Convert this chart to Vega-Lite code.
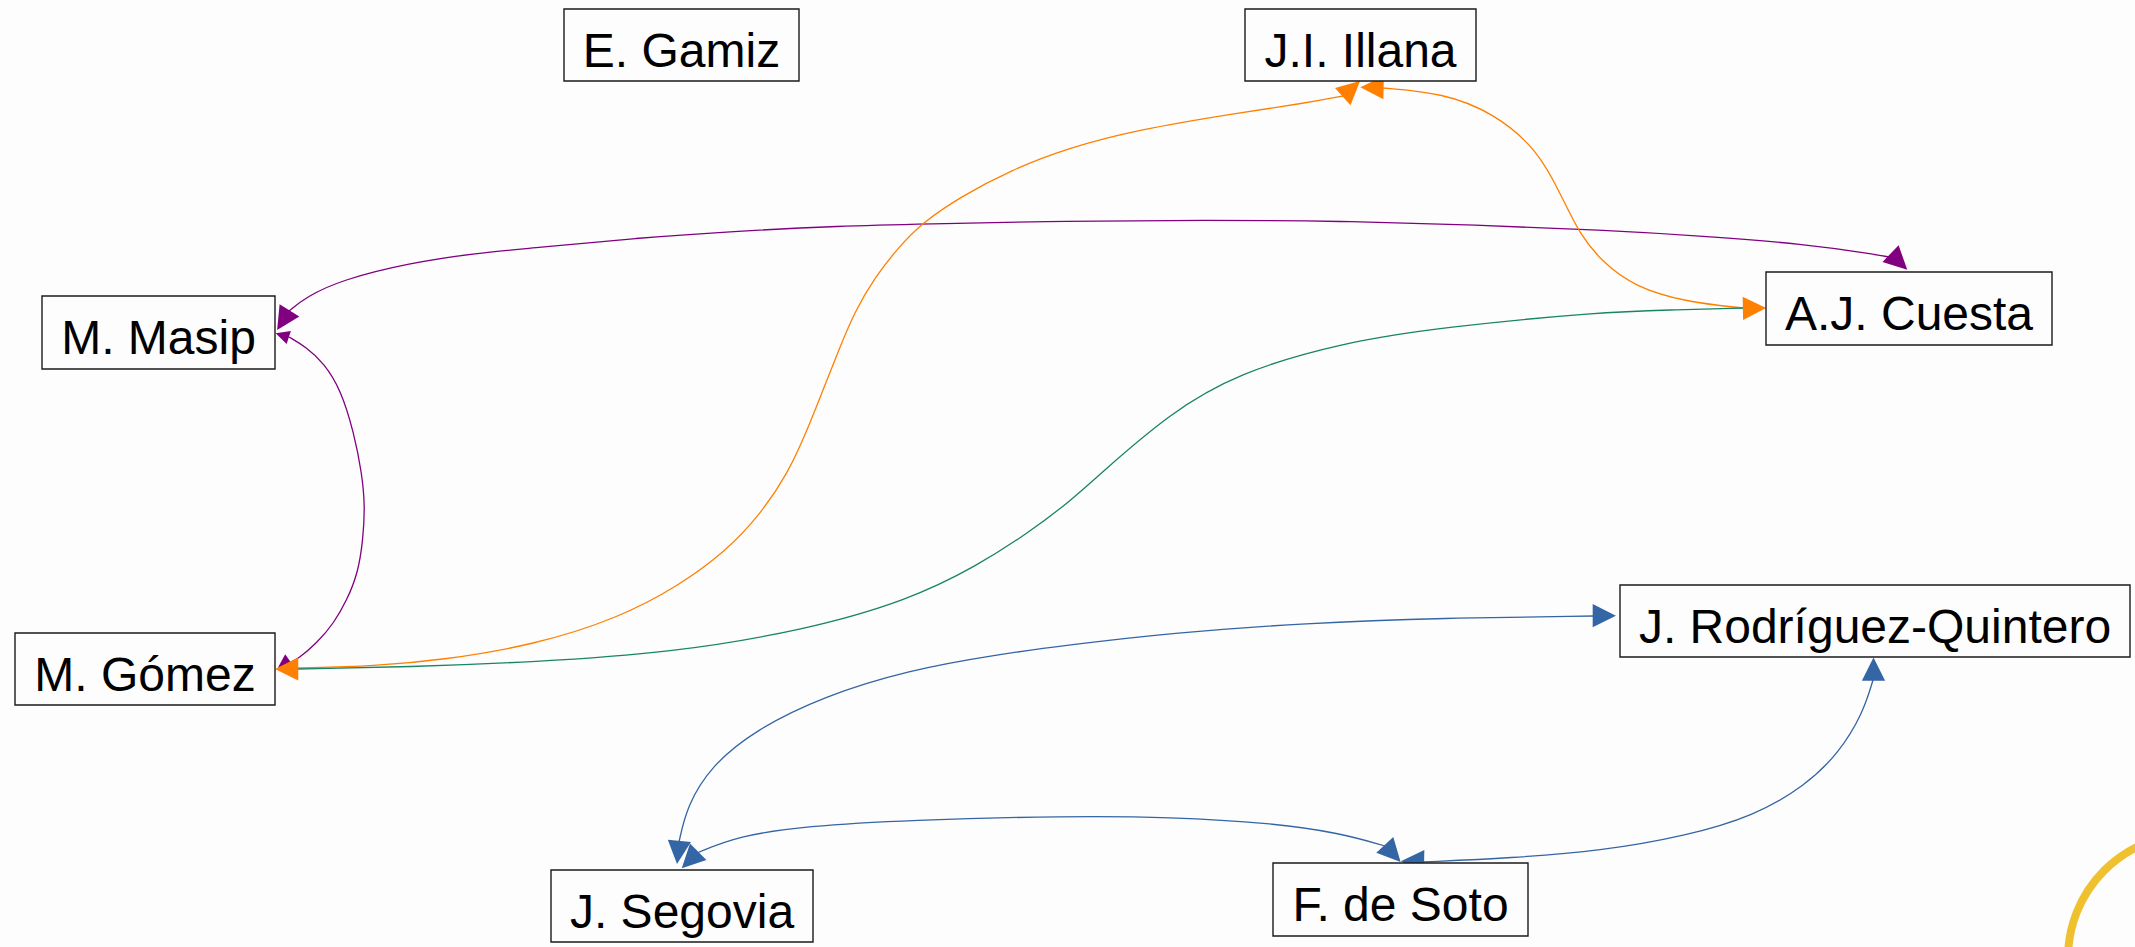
{
  "$schema": "https://vega.github.io/schema/vega-lite/v6.json",
  "width": 2135,
  "height": 947,
  "autosize": {"type": "none"},
  "padding": 0,
  "background": "#fdfdfd",
  "config": {"view": {"stroke": null}},
  "datasets": {
    "edges": [
      {"edge": "Masip–Cuesta", "i": 0, "x": 289, "y": 311},
      {"edge": "Masip–Cuesta", "i": 1, "x": 306, "y": 297},
      {"edge": "Masip–Cuesta", "i": 2, "x": 341, "y": 280},
      {"edge": "Masip–Cuesta", "i": 3, "x": 409, "y": 263},
      {"edge": "Masip–Cuesta", "i": 4, "x": 477, "y": 253},
      {"edge": "Masip–Cuesta", "i": 5, "x": 534, "y": 248},
      {"edge": "Masip–Cuesta", "i": 6, "x": 636, "y": 238},
      {"edge": "Masip–Cuesta", "i": 7, "x": 738, "y": 231},
      {"edge": "Masip–Cuesta", "i": 8, "x": 840, "y": 226},
      {"edge": "Masip–Cuesta", "i": 9, "x": 922, "y": 224},
      {"edge": "Masip–Cuesta", "i": 10, "x": 1068, "y": 221},
      {"edge": "Masip–Cuesta", "i": 11, "x": 1204, "y": 220},
      {"edge": "Masip–Cuesta", "i": 12, "x": 1340, "y": 221},
      {"edge": "Masip–Cuesta", "i": 13, "x": 1477, "y": 225},
      {"edge": "Masip–Cuesta", "i": 14, "x": 1602, "y": 230},
      {"edge": "Masip–Cuesta", "i": 15, "x": 1703, "y": 236},
      {"edge": "Masip–Cuesta", "i": 16, "x": 1805, "y": 244},
      {"edge": "Masip–Cuesta", "i": 17, "x": 1873, "y": 254},
      {"edge": "Masip–Cuesta", "i": 18, "x": 1889, "y": 257},

      {"edge": "Masip–Gómez", "i": 0, "x": 289, "y": 337},
      {"edge": "Masip–Gómez", "i": 1, "x": 306, "y": 347},
      {"edge": "Masip–Gómez", "i": 2, "x": 324, "y": 363},
      {"edge": "Masip–Gómez", "i": 3, "x": 341, "y": 390},
      {"edge": "Masip–Gómez", "i": 4, "x": 354, "y": 433},
      {"edge": "Masip–Gómez", "i": 5, "x": 362, "y": 474},
      {"edge": "Masip–Gómez", "i": 6, "x": 365, "y": 506},
      {"edge": "Masip–Gómez", "i": 7, "x": 363, "y": 540},
      {"edge": "Masip–Gómez", "i": 8, "x": 358, "y": 573},
      {"edge": "Masip–Gómez", "i": 9, "x": 347, "y": 600},
      {"edge": "Masip–Gómez", "i": 10, "x": 334, "y": 623},
      {"edge": "Masip–Gómez", "i": 11, "x": 317, "y": 643},
      {"edge": "Masip–Gómez", "i": 12, "x": 298, "y": 659},
      {"edge": "Masip–Gómez", "i": 13, "x": 291, "y": 662},

      {"edge": "Gómez–Illana", "i": 0, "x": 298, "y": 668},
      {"edge": "Gómez–Illana", "i": 1, "x": 375, "y": 666},
      {"edge": "Gómez–Illana", "i": 2, "x": 443, "y": 660},
      {"edge": "Gómez–Illana", "i": 3, "x": 534, "y": 645},
      {"edge": "Gómez–Illana", "i": 4, "x": 619, "y": 618},
      {"edge": "Gómez–Illana", "i": 5, "x": 680, "y": 585},
      {"edge": "Gómez–Illana", "i": 6, "x": 725, "y": 552},
      {"edge": "Gómez–Illana", "i": 7, "x": 760, "y": 515},
      {"edge": "Gómez–Illana", "i": 8, "x": 788, "y": 473},
      {"edge": "Gómez–Illana", "i": 9, "x": 806, "y": 433},
      {"edge": "Gómez–Illana", "i": 10, "x": 823, "y": 390},
      {"edge": "Gómez–Illana", "i": 11, "x": 840, "y": 347},
      {"edge": "Gómez–Illana", "i": 12, "x": 854, "y": 313},
      {"edge": "Gómez–Illana", "i": 13, "x": 875, "y": 277},
      {"edge": "Gómez–Illana", "i": 14, "x": 898, "y": 248},
      {"edge": "Gómez–Illana", "i": 15, "x": 922, "y": 223},
      {"edge": "Gómez–Illana", "i": 16, "x": 960, "y": 197},
      {"edge": "Gómez–Illana", "i": 17, "x": 1011, "y": 170},
      {"edge": "Gómez–Illana", "i": 18, "x": 1068, "y": 148},
      {"edge": "Gómez–Illana", "i": 19, "x": 1136, "y": 130},
      {"edge": "Gómez–Illana", "i": 20, "x": 1238, "y": 113},
      {"edge": "Gómez–Illana", "i": 21, "x": 1306, "y": 103},
      {"edge": "Gómez–Illana", "i": 22, "x": 1343, "y": 96},

      {"edge": "Illana–Cuesta", "i": 0, "x": 1383, "y": 88},
      {"edge": "Illana–Cuesta", "i": 1, "x": 1443, "y": 93},
      {"edge": "Illana–Cuesta", "i": 2, "x": 1494, "y": 113},
      {"edge": "Illana–Cuesta", "i": 3, "x": 1538, "y": 150},
      {"edge": "Illana–Cuesta", "i": 4, "x": 1562, "y": 197},
      {"edge": "Illana–Cuesta", "i": 5, "x": 1579, "y": 233},
      {"edge": "Illana–Cuesta", "i": 6, "x": 1602, "y": 262},
      {"edge": "Illana–Cuesta", "i": 7, "x": 1635, "y": 287},
      {"edge": "Illana–Cuesta", "i": 8, "x": 1686, "y": 302},
      {"edge": "Illana–Cuesta", "i": 9, "x": 1743, "y": 308},

      {"edge": "Gómez–Cuesta", "i": 0, "x": 298, "y": 669},
      {"edge": "Gómez–Cuesta", "i": 1, "x": 409, "y": 667},
      {"edge": "Gómez–Cuesta", "i": 2, "x": 534, "y": 662},
      {"edge": "Gómez–Cuesta", "i": 3, "x": 670, "y": 653},
      {"edge": "Gómez–Cuesta", "i": 4, "x": 806, "y": 630},
      {"edge": "Gómez–Cuesta", "i": 5, "x": 909, "y": 600},
      {"edge": "Gómez–Cuesta", "i": 6, "x": 977, "y": 566},
      {"edge": "Gómez–Cuesta", "i": 7, "x": 1028, "y": 533},
      {"edge": "Gómez–Cuesta", "i": 8, "x": 1068, "y": 503},
      {"edge": "Gómez–Cuesta", "i": 9, "x": 1100, "y": 474},
      {"edge": "Gómez–Cuesta", "i": 10, "x": 1170, "y": 413},
      {"edge": "Gómez–Cuesta", "i": 11, "x": 1238, "y": 373},
      {"edge": "Gómez–Cuesta", "i": 12, "x": 1340, "y": 343},
      {"edge": "Gómez–Cuesta", "i": 13, "x": 1443, "y": 327},
      {"edge": "Gómez–Cuesta", "i": 14, "x": 1602, "y": 312},
      {"edge": "Gómez–Cuesta", "i": 15, "x": 1669, "y": 310},
      {"edge": "Gómez–Cuesta", "i": 16, "x": 1743, "y": 308},

      {"edge": "Segovia–Rodríguez-Quintero", "i": 0, "x": 679, "y": 842},
      {"edge": "Segovia–Rodríguez-Quintero", "i": 1, "x": 687, "y": 806},
      {"edge": "Segovia–Rodríguez-Quintero", "i": 2, "x": 711, "y": 766},
      {"edge": "Segovia–Rodríguez-Quintero", "i": 3, "x": 755, "y": 730},
      {"edge": "Segovia–Rodríguez-Quintero", "i": 4, "x": 824, "y": 696},
      {"edge": "Segovia–Rodríguez-Quintero", "i": 5, "x": 909, "y": 670},
      {"edge": "Segovia–Rodríguez-Quintero", "i": 6, "x": 994, "y": 655},
      {"edge": "Segovia–Rodríguez-Quintero", "i": 7, "x": 1068, "y": 645},
      {"edge": "Segovia–Rodríguez-Quintero", "i": 8, "x": 1170, "y": 633},
      {"edge": "Segovia–Rodríguez-Quintero", "i": 9, "x": 1306, "y": 623},
      {"edge": "Segovia–Rodríguez-Quintero", "i": 10, "x": 1443, "y": 618},
      {"edge": "Segovia–Rodríguez-Quintero", "i": 11, "x": 1594, "y": 616},

      {"edge": "Segovia–de Soto", "i": 0, "x": 697, "y": 853},
      {"edge": "Segovia–de Soto", "i": 1, "x": 738, "y": 836},
      {"edge": "Segovia–de Soto", "i": 2, "x": 806, "y": 826},
      {"edge": "Segovia–de Soto", "i": 3, "x": 909, "y": 820},
      {"edge": "Segovia–de Soto", "i": 4, "x": 1068, "y": 816},
      {"edge": "Segovia–de Soto", "i": 5, "x": 1170, "y": 817},
      {"edge": "Segovia–de Soto", "i": 6, "x": 1272, "y": 823},
      {"edge": "Segovia–de Soto", "i": 7, "x": 1340, "y": 833},
      {"edge": "Segovia–de Soto", "i": 8, "x": 1385, "y": 846},

      {"edge": "de Soto–Rodríguez-Quintero", "i": 0, "x": 1423, "y": 862},
      {"edge": "de Soto–Rodríguez-Quintero", "i": 1, "x": 1511, "y": 858},
      {"edge": "de Soto–Rodríguez-Quintero", "i": 2, "x": 1601, "y": 851},
      {"edge": "de Soto–Rodríguez-Quintero", "i": 3, "x": 1686, "y": 836},
      {"edge": "de Soto–Rodríguez-Quintero", "i": 4, "x": 1754, "y": 816},
      {"edge": "de Soto–Rodríguez-Quintero", "i": 5, "x": 1805, "y": 786},
      {"edge": "de Soto–Rodríguez-Quintero", "i": 6, "x": 1839, "y": 753},
      {"edge": "de Soto–Rodríguez-Quintero", "i": 7, "x": 1863, "y": 713},
      {"edge": "de Soto–Rodríguez-Quintero", "i": 8, "x": 1873, "y": 680}
    ],
    "arrows": [
      {"edge": "Masip–Cuesta", "x": 283.3, "y": 320.2, "angle": 212, "head": "large"},
      {"edge": "Masip–Cuesta", "x": 1898.9, "y": 261.7, "angle": 134, "head": "large"},
      {"edge": "Masip–Gómez", "x": 282.2, "y": 335.3, "angle": 288, "head": "small"},
      {"edge": "Masip–Gómez", "x": 283.5, "y": 663.9, "angle": 235, "head": "small"},
      {"edge": "Gómez–Illana", "x": 286.6, "y": 669, "angle": 270, "head": "large"},
      {"edge": "Gómez–Illana", "x": 1351.4, "y": 88.8, "angle": 48, "head": "large"},
      {"edge": "Illana–Cuesta", "x": 1372, "y": 87.5, "angle": 271, "head": "large"},
      {"edge": "Illana–Cuesta", "x": 1754.5, "y": 308.2, "angle": 89, "head": "large"},
      {"edge": "Segovia–Rodríguez-Quintero", "x": 678.2, "y": 852.4, "angle": 186, "head": "large"},
      {"edge": "Segovia–Rodríguez-Quintero", "x": 1604.3, "y": 615.7, "angle": 90, "head": "large"},
      {"edge": "Segovia–de Soto", "x": 690, "y": 860, "angle": 225, "head": "large"},
      {"edge": "Segovia–de Soto", "x": 1392.7, "y": 853.4, "angle": 137, "head": "large"},
      {"edge": "de Soto–Rodríguez-Quintero", "x": 1412.5, "y": 861.5, "angle": 271, "head": "large"},
      {"edge": "de Soto–Rodríguez-Quintero", "x": 1873.5, "y": 669.2, "angle": 0, "head": "large"}
    ],
    "nodes": [
      {"name": "E. Gamiz", "x1": 564, "x2": 799, "y1": 9, "y2": 81, "cx": 681.5, "cy": 45},
      {"name": "J.I. Illana", "x1": 1245, "x2": 1476, "y1": 9, "y2": 81, "cx": 1360.5, "cy": 45},
      {"name": "M. Masip", "x1": 42, "x2": 275, "y1": 296, "y2": 369, "cx": 158.5, "cy": 332.5},
      {"name": "A.J. Cuesta", "x1": 1766, "x2": 2052, "y1": 272, "y2": 345, "cx": 1909, "cy": 308.5},
      {"name": "M. Gómez", "x1": 15, "x2": 275, "y1": 633, "y2": 705, "cx": 145, "cy": 669},
      {"name": "J. Rodríguez-Quintero", "x1": 1620, "x2": 2130, "y1": 585, "y2": 657, "cx": 1875, "cy": 621},
      {"name": "J. Segovia", "x1": 551, "x2": 813, "y1": 870, "y2": 942, "cx": 682, "cy": 906},
      {"name": "F. de Soto", "x1": 1273, "x2": 1528, "y1": 863, "y2": 936, "cx": 1400.5, "cy": 899.5}
    ],
    "logo": [
      {"x": 2192, "y": 958}
    ]
  },
  "layer": [
    {
      "data": {"name": "edges"},
      "mark": {"type": "line", "interpolate": "basis", "strokeWidth": 1.3},
      "encoding": {
        "x": {"field": "x", "type": "quantitative", "scale": {"domain": [0, 2135], "nice": false, "zero": false}, "axis": null},
        "y": {"field": "y", "type": "quantitative", "scale": {"domain": [0, 947], "nice": false, "zero": false, "reverse": true}, "axis": null},
        "order": {"field": "i", "type": "quantitative"},
        "color": {
          "field": "edge", "type": "nominal", "legend": null,
          "scale": {
            "domain": ["Masip–Cuesta", "Masip–Gómez", "Gómez–Cuesta", "Gómez–Illana", "Illana–Cuesta", "Segovia–Rodríguez-Quintero", "Segovia–de Soto", "de Soto–Rodríguez-Quintero"],
            "range": ["#800080", "#800080", "#178466", "#ff8000", "#ff8000", "#3465a4", "#3465a4", "#3465a4"]
          }
        }
      }
    },
    {
      "data": {"name": "arrows"},
      "mark": {"type": "point", "shape": "M0,-1L1,1L-1,1Z", "filled": true, "opacity": 1, "strokeWidth": 0},
      "encoding": {
        "x": {"field": "x", "type": "quantitative", "scale": {"domain": [0, 2135], "nice": false, "zero": false}, "axis": null},
        "y": {"field": "y", "type": "quantitative", "scale": {"domain": [0, 947], "nice": false, "zero": false, "reverse": true}, "axis": null},
        "angle": {"field": "angle", "type": "quantitative", "scale": null},
        "size": {"field": "head", "type": "nominal", "scale": {"domain": ["small", "large"], "range": [190, 540]}, "legend": null},
        "color": {"field": "edge", "type": "nominal", "legend": null}
      }
    },
    {
      "data": {"name": "nodes"},
      "mark": {"type": "rect", "fill": "#fdfdfd", "stroke": "#1a1a1a", "strokeWidth": 1.4},
      "encoding": {
        "x": {"field": "x1", "type": "quantitative", "scale": {"domain": [0, 2135], "nice": false, "zero": false}, "axis": null},
        "x2": {"field": "x2"},
        "y": {"field": "y1", "type": "quantitative", "scale": {"domain": [0, 947], "nice": false, "zero": false, "reverse": true}, "axis": null},
        "y2": {"field": "y2"}
      }
    },
    {
      "data": {"name": "nodes"},
      "mark": {"type": "text", "font": "Liberation Sans", "fontSize": 48, "color": "#000000", "align": "center", "baseline": "alphabetic", "dy": 21.5},
      "encoding": {
        "x": {"field": "cx", "type": "quantitative", "scale": {"domain": [0, 2135], "nice": false, "zero": false}, "axis": null},
        "y": {"field": "cy", "type": "quantitative", "scale": {"domain": [0, 947], "nice": false, "zero": false, "reverse": true}, "axis": null},
        "text": {"field": "name", "type": "nominal"}
      }
    },
    {
      "data": {"name": "logo"},
      "mark": {"type": "point", "shape": "circle", "filled": false, "stroke": "#efc12e", "strokeWidth": 8, "opacity": 1, "size": 61504, "clip": true},
      "encoding": {
        "x": {"field": "x", "type": "quantitative", "scale": {"domain": [0, 2135], "nice": false, "zero": false}, "axis": null},
        "y": {"field": "y", "type": "quantitative", "scale": {"domain": [0, 947], "nice": false, "zero": false, "reverse": true}, "axis": null}
      }
    }
  ]
}
